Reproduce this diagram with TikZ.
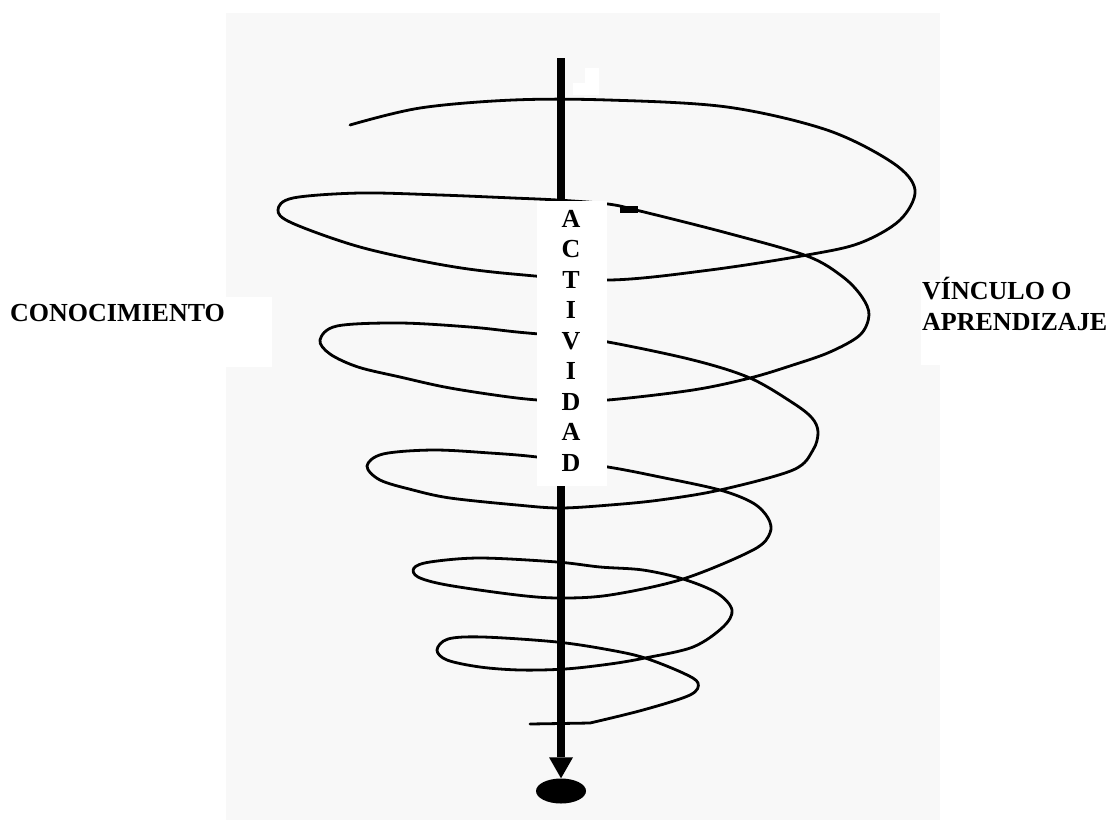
\documentclass[tikz,border=0pt]{standalone}
\usepackage{fontspec}
\setmainfont{Liberation Serif}
\usetikzlibrary{arrows.meta,shapes.geometric}
\definecolor{paper}{RGB}{248,248,248}
\tikzset{
  lbl/.style={font=\fontsize{26}{31}\selectfont\bfseries, inner sep=0pt},
  coil/.style={line width=2.8pt, line join=round, line cap=round},
  cover/.style={fill=white, draw=none, inner sep=0pt},
}
\begin{document}
\begin{tikzpicture}[x=1pt,y=-1pt]
\useasboundingbox (0,0) rectangle (1113,820);
\fill[paper] (226,13) rectangle (940,820);
% spiral
\draw[coil] plot[smooth, tension=0.55] coordinates {
 (350,125) (420,108) (513,100) (608,100) (727,107) (827,130) (893,163) (915,190)
 (900,220) (860,243) (807,255) (710,270) (610,280) (513,274) (443,265) (360,247)
 (292,223) (278,210) (293,198) (360,193) (440,195) (513,198) (557,200) (608,204)
 (640,211) (727,233) (807,256) (843,277) (862,297) (869,315) (860,335) (830,352)
 (793,365) (750,378) (693,390) (608,400) (560,401) (517,398) (450,388) (400,377)
 (358,367) (330,354) (320,340) (337,326) (400,323) (470,327) (517,332) (560,336)
 (608,342) (693,360) (750,378) (793,403) (812,418) (818,432) (813,450) (793,470)
 (720,490) (660,500) (610,505) (560,508) (517,505) (450,498) (413,490) (380,480)
 (367,466) (383,454) (433,450) (490,453) (537,457) (608,467) (660,477) (720,490)
 (753,503) (768,518) (770,533) (753,550) (683,579) (610,595) (560,598) (517,595)
 (447,585) (418,577) (414,568) (430,562) (480,558) (557,562) (600,567) (643,570)
 (683,579) (717,593) (732,610) (723,627) (693,647) (645,658) (610,664) (565,669)
 (520,670) (480,667) (447,660) (437,650) (448,639) (483,637) (557,642) (610,650)
 (645,658) (683,673) (698,683) (690,695) (643,710) (590,723)} -- (530,724);
\fill (620,206) rectangle (638,213);
\fill[white] (573,83) -- (573,95) -- (599,95) -- (599,68) -- (585,68) -- (585,83) -- cycle;
% axis arrow
\coordinate (top) at (561,58);
\node[fill=black, ellipse, minimum width=50pt, minimum height=25pt, inner sep=0pt] (sink) at (561,791) {};
\draw[line width=8pt, -{Triangle[width=24pt,length=21pt,line width=0pt]}] (top) -- (sink.north);
% vertical label
\node[cover, minimum width=70pt, minimum height=285pt] (act) at (572,343.5) {};
\foreach \ch [count=\i from 0] in {A,C,T,I,V,I,D,A,D}
  \node[lbl, anchor=base] (L\i) at (571,{227+30.5*\i}) {\ch};
% side labels
\node[cover, minimum width=272pt, minimum height=70pt, anchor=north west] (conbox) at (0,297) {};
\node[cover, minimum width=192pt, minimum height=85pt, anchor=north west] (vinbox) at (921,280) {};
\node[lbl, anchor=base west] (con) at (10,321) {CONOCIMIENTO};
\node[lbl, anchor=base west] (vin) at (922,299) {VÍNCULO O};
\node[lbl, anchor=base west] (apr) at (922,330) {APRENDIZAJE};
\end{tikzpicture}
\end{document}
